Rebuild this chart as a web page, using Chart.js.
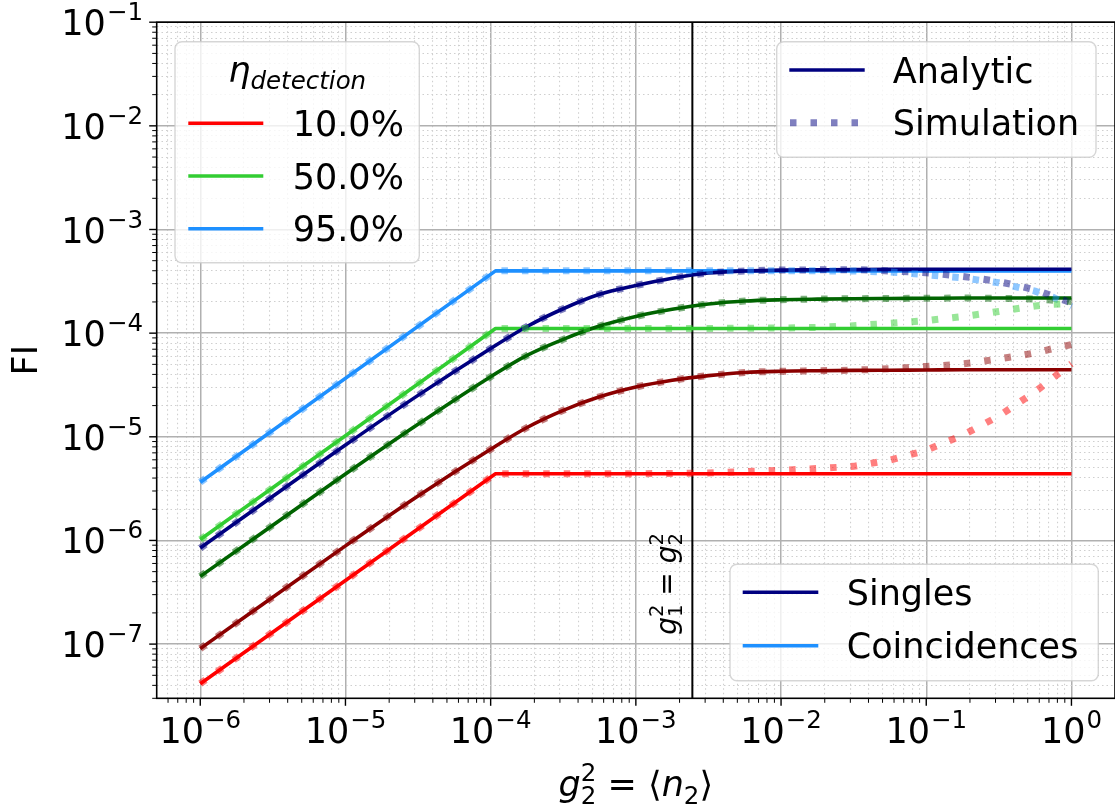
<!DOCTYPE html>
<html>
<head>
<meta charset="utf-8">
<script src="https://cdn.jsdelivr.net/npm/chart.js@4.4.1/dist/chart.umd.min.js"></script>
<style>
  html, body { margin: 0; padding: 0; background: #fff; }
  #grafico { display: block; }
</style>
</head>
<body>
<canvas id="grafico" width="1115" height="811"></canvas>
<script>
// eixo x: g2^2 = <n2>
const x_singles = [1e-6, 1e-5, 3.16e-5, 1e-4, 1.78e-4, 3.16e-4, 5.62e-4, 1e-3, 1.78e-3, 3.16e-3, 5.62e-3,
                   1e-2, 1.78e-2, 3.16e-2, 5.62e-2, 0.1, 0.178, 0.316, 0.562, 0.75, 1];
const x_coinc = [1e-6, 1.08e-4, 1];
const x_coinc_sim = [1e-6, 1.08e-4, 1e-3, 3.16e-3, 1e-2, 1.78e-2, 3.16e-2, 5.62e-2, 0.1, 0.178, 0.316, 0.562, 0.75, 1];

// Singles, analitico
const singles_95 = [8.45e-7, 8.32e-6, 2.51e-5, 7.11e-5, 1.16e-4, 1.72e-4, 2.37e-4, 2.88e-4, 3.39e-4, 3.80e-4, 3.98e-4,
                    4.06e-4, 4.08e-4, 4.10e-4, 4.12e-4, 4.13e-4, 4.14e-4, 4.14e-4, 4.14e-4, 4.14e-4, 4.14e-4];
const singles_50 = [4.50e-7, 4.37e-6, 1.32e-5, 3.80e-5, 6.10e-5, 8.71e-5, 1.17e-4, 1.45e-4, 1.70e-4, 1.91e-4, 2.04e-4,
                    2.10e-4, 2.13e-4, 2.15e-4, 2.16e-4, 2.17e-4, 2.18e-4, 2.18e-4, 2.18e-4, 2.18e-4, 2.18e-4];
const singles_10 = [9.04e-8, 8.87e-7, 2.69e-6, 7.59e-6, 1.23e-5, 1.80e-5, 2.43e-5, 3.02e-5, 3.51e-5, 3.89e-5, 4.17e-5,
                    4.29e-5, 4.34e-5, 4.37e-5, 4.39e-5, 4.41e-5, 4.43e-5, 4.43e-5, 4.43e-5, 4.43e-5, 4.43e-5];

// Singles, simulacao
const singles_95_sim = [8.45e-7, 8.32e-6, 2.51e-5, 7.11e-5, 1.16e-4, 1.72e-4, 2.37e-4, 2.88e-4, 3.39e-4, 3.80e-4, 3.98e-4,
                        4.06e-4, 4.08e-4, 4.10e-4, 3.98e-4, 3.83e-4, 3.52e-4, 3.13e-4, 2.60e-4, 2.27e-4, 1.96e-4];
const singles_50_sim = [4.50e-7, 4.37e-6, 1.32e-5, 3.80e-5, 6.10e-5, 8.71e-5, 1.17e-4, 1.45e-4, 1.70e-4, 1.91e-4, 2.04e-4,
                        2.10e-4, 2.13e-4, 2.15e-4, 2.16e-4, 2.17e-4, 2.18e-4, 2.17e-4, 2.13e-4, 2.08e-4, 2.02e-4];
const singles_10_sim = [9.04e-8, 8.87e-7, 2.69e-6, 7.59e-6, 1.23e-5, 1.80e-5, 2.43e-5, 3.02e-5, 3.51e-5, 3.89e-5, 4.17e-5,
                        4.29e-5, 4.34e-5, 4.40e-5, 4.54e-5, 4.78e-5, 5.05e-5, 5.65e-5, 6.46e-5, 7.11e-5, 7.76e-5];

// Coincidences, analitico
const coinc_95 = [3.65e-6, 3.99e-4, 3.99e-4];
const coinc_50 = [1.02e-6, 1.11e-4, 1.11e-4];
const coinc_10 = [4.15e-8, 4.40e-6, 4.40e-6];

// Coincidences, simulacao
const coinc_95_sim = [3.65e-6, 3.99e-4, 3.99e-4, 3.99e-4, 3.99e-4, 3.99e-4, 3.98e-4, 3.89e-4, 3.66e-4, 3.41e-4, 3.06e-4, 2.54e-4, 2.21e-4, 1.80e-4];
const coinc_50_sim = [1.02e-6, 1.11e-4, 1.11e-4, 1.11e-4, 1.12e-4, 1.135e-4, 1.18e-4, 1.245e-4, 1.32e-4, 1.445e-4, 1.62e-4, 1.83e-4, 1.90e-4, 1.93e-4];
const coinc_10_sim = [4.15e-8, 4.40e-6, 4.40e-6, 4.47e-6, 4.75e-6, 4.94e-6, 5.19e-6, 5.96e-6, 7.41e-6, 1.035e-5, 1.585e-5, 2.72e-5, 3.72e-5, 5.07e-5];

// linha vertical g1^2 = g2^2
const x_linha = [2.45e-3, 2.45e-3];
const y_linha = [3e-8, 0.1];

// rotulos
const rotulos_eta = ['10.0%', '50.0%', '95.0%'];
const x_expoentes = [-6, -5, -4, -3, -2, -1, 0];
const y_expoentes = [-7, -6, -5, -4, -3, -2, -1];

const X_MIN = 5.012e-7, X_MAX = 1.995;
const Y_MIN = 3e-8, Y_MAX = 0.1;

const cores = {
    red: '#ff0000', lime: '#32cd32', dodger: '#1e90ff',
    darkred: '#8b0000', darkgreen: '#006400', navy: '#000080'
};
const cores_sim = {
    red: 'rgba(255,0,0,0.5)', lime: 'rgba(50,205,50,0.5)', dodger: 'rgba(30,144,255,0.5)',
    darkred: 'rgba(139,0,0,0.5)', darkgreen: 'rgba(0,100,0,0.5)', navy: 'rgba(0,0,128,0.5)'
};

const FONTE = '"DejaVu Sans"';
const FONTE_TICK = '35px ' + FONTE;
const FONTE_EXP = '24.5px ' + FONTE;

function pontos(xs, ys) {
    return xs.map((x, i) => ({ x: x, y: ys[i] }));
}

function eh_decada(v) {
    const l = Math.log10(v);
    return Math.abs(l - Math.round(l)) < 1e-6;
}

function marcas_log(min, max) {
    const lista = [];
    for (let e = Math.floor(Math.log10(min)); e <= Math.ceil(Math.log10(max)); e++) {
        for (let m = 1; m <= 9; m++) {
            const v = m * Math.pow(10, e);
            if (v >= min * 0.9999 && v <= max * 1.0001) lista.push({ value: v });
        }
    }
    return lista;
}

function analitico(dados, cor, suave) {
    return {
        data: dados, borderColor: cor, borderWidth: 3.6, pointRadius: 0,
        cubicInterpolationMode: suave ? 'monotone' : 'default', tension: 0,
        borderJoinStyle: 'round', order: 2
    };
}

function simulacao(dados, cor, suave) {
    return {
        data: dados, borderColor: cor, borderWidth: 7, pointRadius: 0,
        borderDash: [6.5, 14], borderCapStyle: 'butt',
        cubicInterpolationMode: suave ? 'monotone' : 'default', tension: 0,
        order: 1
    };
}

const datasets = [
    simulacao(pontos(x_coinc_sim, coinc_10_sim), cores_sim.red, false),
    simulacao(pontos(x_singles, singles_10_sim), cores_sim.darkred, true),
    simulacao(pontos(x_coinc_sim, coinc_50_sim), cores_sim.lime, false),
    simulacao(pontos(x_singles, singles_50_sim), cores_sim.darkgreen, true),
    simulacao(pontos(x_coinc_sim, coinc_95_sim), cores_sim.dodger, false),
    simulacao(pontos(x_singles, singles_95_sim), cores_sim.navy, true),
    analitico(pontos(x_singles, singles_95), cores.navy, true),
    analitico(pontos(x_coinc, coinc_95), cores.dodger, false),
    analitico(pontos(x_singles, singles_50), cores.darkgreen, true),
    analitico(pontos(x_coinc, coinc_50), cores.lime, false),
    analitico(pontos(x_singles, singles_10), cores.darkred, true),
    analitico(pontos(x_coinc, coinc_10), cores.red, false),
    {
        data: pontos(x_linha, y_linha), borderColor: '#000', borderWidth: 2,
        pointRadius: 0, order: 3
    }
];

function desenhar_potencia(ctx, expoente, x, y_base, alinhamento) {
    const txt_exp = (expoente < 0 ? '\u2212' : '') + Math.abs(expoente);
    ctx.font = FONTE_TICK;
    const w_base = ctx.measureText('10').width;
    ctx.font = FONTE_EXP;
    const w_exp = ctx.measureText(txt_exp).width;
    const total = w_base + 1 + w_exp;
    const x0 = alinhamento === 'center' ? x - total / 2 : x - total;
    ctx.textAlign = 'left';
    ctx.textBaseline = 'alphabetic';
    ctx.font = FONTE_TICK;
    ctx.fillText('10', x0, y_base);
    ctx.font = FONTE_EXP;
    ctx.fillText(txt_exp, x0 + w_base + 1, y_base - 15);
}

// desenha uma sequencia de pedacos de texto: [texto, fonte, deslocamento vertical]
function texto_composto(ctx, partes, x_centro, y_base) {
    let total = 0;
    const larguras = partes.map(p => {
        ctx.font = p[1];
        const w = p[3] ? 0 : ctx.measureText(p[0]).width;
        return w;
    });
    partes.forEach((p, i) => { if (!p[3]) total += larguras[i]; else total += 0; });
    let x = x_centro - total / 2;
    ctx.textAlign = 'left';
    ctx.textBaseline = 'alphabetic';
    partes.forEach((p, i) => {
        ctx.font = p[1];
        ctx.fillText(p[0], x, y_base + p[2]);
        if (!p[3]) x += larguras[i];
    });
}

function caixa_legenda(ctx, x1, y1, x2, y2) {
    const r = 7;
    ctx.beginPath();
    ctx.moveTo(x1 + r, y1);
    ctx.lineTo(x2 - r, y1);
    ctx.arcTo(x2, y1, x2, y1 + r, r);
    ctx.lineTo(x2, y2 - r);
    ctx.arcTo(x2, y2, x2 - r, y2, r);
    ctx.lineTo(x1 + r, y2);
    ctx.arcTo(x1, y2, x1, y2 - r, r);
    ctx.lineTo(x1, y1 + r);
    ctx.arcTo(x1, y1, x1 + r, y1, r);
    ctx.closePath();
    ctx.fillStyle = 'rgba(255,255,255,0.8)';
    ctx.fill();
    ctx.strokeStyle = 'rgba(204,204,204,0.8)';
    ctx.lineWidth = 1.4;
    ctx.stroke();
}

function amostra(ctx, x1, x2, y, cor, largura, tracejado) {
    ctx.beginPath();
    ctx.setLineDash(tracejado || []);
    ctx.strokeStyle = cor;
    ctx.lineWidth = largura;
    ctx.lineCap = 'butt';
    ctx.moveTo(x1, y);
    ctx.lineTo(x2, y);
    ctx.stroke();
    ctx.setLineDash([]);
}

function rotulo(ctx, txt, x, y) {
    ctx.font = '35px ' + FONTE;
    ctx.fillStyle = '#000';
    ctx.textAlign = 'left';
    ctx.textBaseline = 'alphabetic';
    ctx.fillText(txt, x, y + 12.7);
}

const plugin_desenho = {
    id: 'desenho',
    afterDraw(chart) {
        const ctx = chart.ctx;
        const area = chart.chartArea;
        const sx = chart.scales.x, sy = chart.scales.y;
        ctx.save();

        // bordas
        ctx.strokeStyle = '#000';
        ctx.lineWidth = 1.6;
        ctx.strokeRect(area.left, area.top, area.right - area.left, area.bottom - area.top);

        // marcas dos eixos
        sx.ticks.forEach(t => {
            const px = sx.getPixelForValue(t.value);
            const maior = eh_decada(t.value);
            ctx.lineWidth = maior ? 1.4 : 1.0;
            ctx.beginPath();
            ctx.moveTo(px, area.bottom);
            ctx.lineTo(px, area.bottom + (maior ? 7.5 : 4.5));
            ctx.stroke();
        });
        sy.ticks.forEach(t => {
            const py = sy.getPixelForValue(t.value);
            const maior = eh_decada(t.value);
            ctx.lineWidth = maior ? 1.4 : 1.0;
            ctx.beginPath();
            ctx.moveTo(area.left, py);
            ctx.lineTo(area.left - (maior ? 7.5 : 4.5), py);
            ctx.stroke();
        });

        // rotulos dos eixos
        ctx.fillStyle = '#000';
        x_expoentes.forEach(e => {
            desenhar_potencia(ctx, e, sx.getPixelForValue(Math.pow(10, e)), 743, 'center');
        });
        y_expoentes.forEach(e => {
            desenhar_potencia(ctx, e, 143, sy.getPixelForValue(Math.pow(10, e)) + 13, 'right');
        });

        // titulo do eixo x: g2^2 = <n2>
        const it35 = 'italic 35px ' + FONTE, it24 = 'italic 24.5px ' + FONTE;
        const rm35 = '35px ' + FONTE, rm24 = '24.5px ' + FONTE;
        texto_composto(ctx, [
            ['g', it35, 0],
            ['2', rm24, -15, true],
            ['2', rm24, 8],
            [' = \u27e8', rm35, 0],
            ['n', it35, 0],
            ['2', rm24, 8],
            ['\u27e9', rm35, 0]
        ], (area.left + area.right) / 2, 796);

        // titulo do eixo y
        ctx.save();
        ctx.translate(37, (area.top + area.bottom) / 2);
        ctx.rotate(-Math.PI / 2);
        ctx.font = rm35;
        ctx.textAlign = 'center';
        ctx.textBaseline = 'alphabetic';
        ctx.fillText('FI', 0, 0);
        ctx.restore();

        // texto da linha vertical
        ctx.save();
        ctx.translate(sx.getPixelForValue(x_linha[0]) - 16, 584);
        ctx.rotate(-Math.PI / 2);
        const it28 = 'italic 28px ' + FONTE, rm20 = '19.6px ' + FONTE, rm28 = '28px ' + FONTE;
        texto_composto(ctx, [
            ['g', it28, 0],
            ['2', rm20, -13, true],
            ['1', rm20, 6],
            [' = ', rm28, 0],
            ['g', it28, 0],
            ['2', rm20, -13, true],
            ['2', rm20, 6]
        ], 0, 0);
        ctx.restore();

        // legenda 1: eta
        caixa_legenda(ctx, 175, 41.7, 419.3, 262.7);
        ctx.fillStyle = '#000';
        texto_composto(ctx, [
            ['\u03b7', it35, 0],
            ['detection', it24, 6.5]
        ], 297.2, 82);
        const cores_eta = [cores.red, cores.lime, cores.dodger];
        rotulos_eta.forEach((r, i) => {
            const y = 123.3 + i * 52.7;
            amostra(ctx, 188.3, 263.3, y, cores_eta[i], 3.6);
            rotulo(ctx, r, 292.7, y);
        });

        // legenda 2: analitico / simulacao
        caixa_legenda(ctx, 776.7, 41.7, 1096, 157.3);
        amostra(ctx, 789.3, 864.7, 70, cores.navy, 3.6);
        rotulo(ctx, 'Analytic', 892.7, 70);
        amostra(ctx, 790, 864.7, 122.7, cores_sim.navy, 7, [6.5, 14]);
        rotulo(ctx, 'Simulation', 892.7, 122.7);

        // legenda 3: singles / coincidences
        caixa_legenda(ctx, 730, 564.3, 1098.3, 680.7);
        amostra(ctx, 742.7, 818.3, 592.3, cores.navy, 3.6);
        rotulo(ctx, 'Singles', 846.7, 592.3);
        amostra(ctx, 742.7, 818.3, 645.7, cores.dodger, 3.6);
        rotulo(ctx, 'Coincidences', 846.7, 645.7);

        ctx.restore();
    }
};

const grade = {
    drawTicks: false,
    color: c => (c.tick && !eh_decada(c.tick.value)) ? '#cfcfcf' : '#b0b0b0',
    lineWidth: c => (c.tick && !eh_decada(c.tick.value)) ? 1.1 : 1.5
};
const borda = {
    display: false,
    dash: c => (c.tick && !eh_decada(c.tick.value)) ? [1.5, 3] : []
};

new Chart(document.getElementById('grafico'), {
    type: 'line',
    data: { datasets: datasets },
    options: {
        responsive: false,
        animation: false,
        devicePixelRatio: 1,
        events: [],
        layout: { padding: { left: 0, top: 22.2, right: -2.4, bottom: 0 } },
        plugins: { legend: { display: false }, tooltip: { enabled: false } },
        scales: {
            x: {
                type: 'logarithmic', min: X_MIN, max: X_MAX,
                afterBuildTicks: s => { s.ticks = marcas_log(X_MIN, X_MAX); },
                afterFit: s => { s.height = 811 - 698.3; },
                ticks: { display: false, autoSkip: false },
                grid: grade, border: borda
            },
            y: {
                type: 'logarithmic', min: Y_MIN, max: Y_MAX,
                afterBuildTicks: s => { s.ticks = marcas_log(Y_MIN, Y_MAX); },
                afterFit: s => { s.width = 156.7; },
                ticks: { display: false, autoSkip: false },
                grid: grade, border: borda
            }
        }
    },
    plugins: [plugin_desenho]
});
</script>
</body>
</html>
